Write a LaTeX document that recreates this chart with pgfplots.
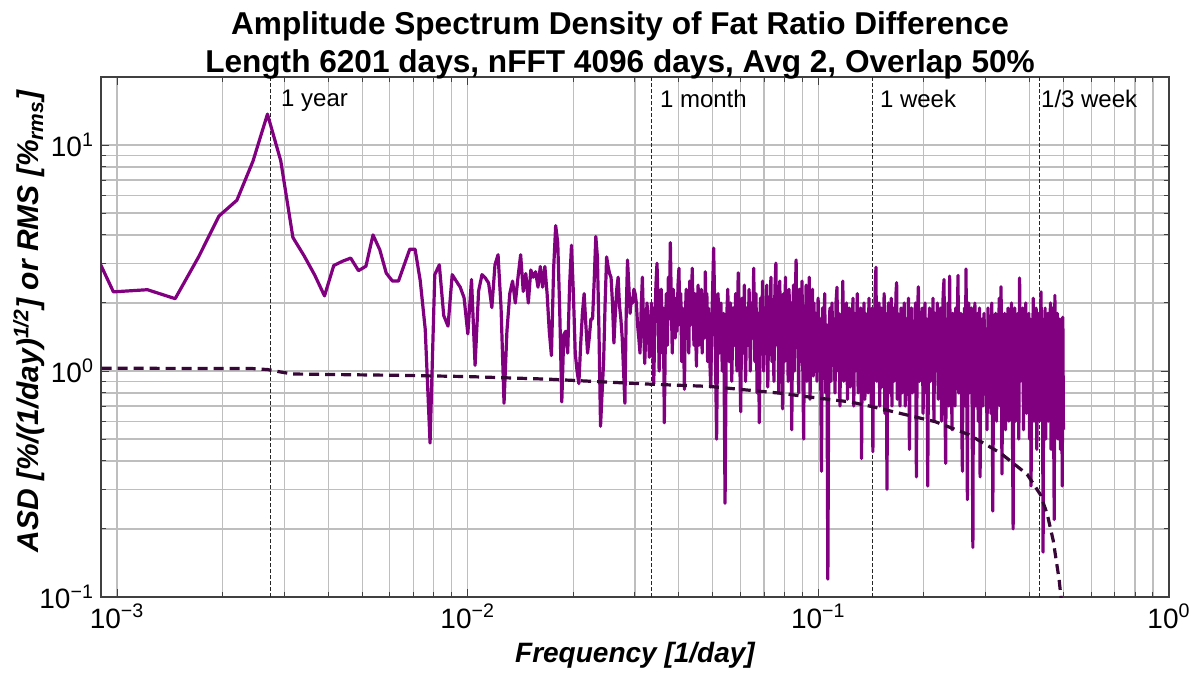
\documentclass[border=0pt]{standalone}
\usepackage{fontspec}
\setmainfont{Liberation Sans}
\usepackage{pgfplots}
\pgfplotsset{compat=1.18}
\definecolor{asdpurple}{RGB}{128,0,128}
\definecolor{rmsdark}{RGB}{55,8,55}
\definecolor{gridgray}{RGB}{190,190,190}
\begin{document}
\begin{tikzpicture}
\begin{axis}[
  xmode=log, ymode=log,
  scale only axis, width=534pt, height=260pt,
  xmin=0.0009, xmax=1, ymin=0.1, ymax=20,
  xtick={0.001,0.01,0.1,1},
  xticklabels={10\textsuperscript{−3},10\textsuperscript{−2},10\textsuperscript{−1},10\textsuperscript{0}},
  ytick={0.1,1,10},
  yticklabels={10\textsuperscript{−1},10\textsuperscript{0},10\textsuperscript{1}},
  minor xtick={0.002,0.003,0.004,0.005,0.006,0.007,0.008,0.009,0.02,0.03,0.04,0.05,0.06,0.07,0.08,0.09,0.2,0.3,0.4,0.5,0.6,0.7,0.8,0.9},
  minor ytick={0.2,0.3,0.4,0.5,0.6,0.7,0.8,0.9,2,3,4,5,6,7,8,9},
  grid=both,
  major grid style={gridgray, line width=0.6pt},
  minor grid style={gridgray, line width=0.6pt},
  axis line style={black!75, line width=0.7pt},
  tick style={black!75, line width=0.5pt},
  major tick length=4pt, minor tick length=2.5pt,
  ticklabel style={font=\fontsize{14}{14}\selectfont},
  xlabel={\bfseries\itshape Frequency [1/day]},
  xlabel style={at={(axis description cs:0.5,-0.1115)}, anchor=center, font=\fontsize{14}{14}\selectfont},
  ylabel={\bfseries\itshape ASD [\%/(1/day)\textsuperscript{1/2}] or RMS [\%\textsubscript{rms}]},
  ylabel style={at={(axis description cs:-0.0674,0.53)}, anchor=center, font=\fontsize{15}{15}\selectfont},
  title={Amplitude Spectrum Density of Fat Ratio Difference\\Length 6201 days, nFFT 4096 days, Avg 2, Overlap 50\%},
  title style={at={(axis description cs:0.486,1)}, anchor=south, inner sep=0pt, yshift=-7.5pt, align=center, font=\bfseries\fontsize{15.8}{19}\selectfont},
]
% reference period lines
\addplot[black!85, line width=0.5pt, dash pattern=on 2pt off 1pt] coordinates {(0.0027379,0.1) (0.0027379,20)};
\addplot[black!85, line width=0.5pt, dash pattern=on 2pt off 1pt] coordinates {(0.033333,0.1) (0.033333,20)};
\addplot[black!85, line width=0.5pt, dash pattern=on 2pt off 1pt] coordinates {(0.142857,0.1) (0.142857,20)};
\addplot[black!85, line width=0.5pt, dash pattern=on 2pt off 1pt] coordinates {(0.428571,0.1) (0.428571,20)};
% ASD
\addplot[asdpurple, line width=1.6pt, line join=round] table[x expr=\thisrow{k}/4096, y=v, row sep=\\] {
k v\\
3 5.8\\ 4 2.24\\ 5 2.29\\ 6 2.09\\ 7 3.2\\ 8 4.85\\ 9 5.70\\ 10 8.48\\ 11 13.7\\ 12 8.53\\
13 3.9\\ 14 3.23\\ 15 2.66\\ 16 2.15\\ 17 2.93\\ 18 3.06\\ 19 3.16\\ 20 2.78\\ 21 2.91\\ 22 4.00\\
23 3.44\\ 24 2.71\\ 25 2.50\\ 26 2.50\\ 27 2.95\\ 28 3.46\\ 29 3.46\\ 30 2.51\\ 31 1.53\\ 32 0.48\\
33 2.67\\ 34 2.95\\ 35 1.76\\ 36 1.58\\ 37 2.67\\ 38 2.50\\ 39 2.35\\ 40 2.11\\ 41 1.46\\ 42 2.54\\
43 1.06\\ 44 2.26\\ 45 2.67\\ 46 2.58\\ 47 2.45\\ 48 1.91\\ 49 2.95\\ 50 3.27\\ 51 1.9\\ 52 0.72\\
53 1.5\\ 54 2.2\\ 55 2.5\\ 56 2.0\\ 57 2.6\\ 58 3.27\\ 59 2.25\\ 60 2.7\\ 61 2.0\\ 62 2.8\\
63 2.6\\ 64 2.75\\ 65 2.35\\ 66 2.9\\ 67 2.35\\ 68 2.9\\ 69 2.2\\ 70 1.5\\ 71 1.17\\ 72 2.8\\
73 4.4\\ 74 3.7\\ 75 1.8\\ 76 0.73\\ 77 1.45\\ 78 1.5\\ 79 1.2\\ 80 2.4\\ 81 3.6\\ 82 2.2\\
83 1.2\\ 84 1.0\\ 85 0.88\\ 86 1.3\\ 87 1.8\\ 88 2.2\\ 89 1.6\\ 90 1.2\\ 91 1.4\\ 92 1.7\\
93 1.7\\ 94 2.5\\ 95 3.94\\ 96 3.2\\ 97 1.5\\ 98 0.57\\ 99 0.8\\ 100 1.1\\ 101 2.0\\ 102 3.2\\
103 2.9\\ 104 2.7\\ 105 2.6\\ 106 2.0\\ 107 1.33\\ 108 1.8\\ 109 2.3\\ 110 2.6\\ 111 1.95\\ 112 1.7\\
113 1.4\\ 114 1.0\\ 115 0.72\\ 116 1.8\\ 117 3.1\\ 118 2.4\\ 119 1.8\\ 120 2.1\\ 121 2.0\\ 122 2.3\\
123 2.2\\ 124 2.0\\ 125 1.6\\ 126 1.4\\ 127 1.2\\ 128 1.9\\ 129 2.6\\ 130 1.6\\ 131 1.08\\ 132 1.5\\
133 2.0\\ 134 1.6\\ 135 1.15\\ 136 1.5\\ 137 2.0\\ 138 1.3\\ 139 0.88\\ 140 1.6\\ 141 2.4\\ 142 3.0\\
143 2.0\\ 144 1.0\\ 145 1.6\\ 146 2.3\\ 147 1.2\\ 148 1.9\\ 149 0.59\\ 150 1.4\\ 151 2.2\\ 152 1.3\\
153 2.6\\ 154 1.7\\ 155 3.7\\ 156 2.0\\ 157 1.2\\ 158 2.3\\ 159 1.8\\ 160 1.4\\ 161 2.1\\ 162 1.5\\
163 2.4\\ 164 2.85\\ 165 1.6\\ 166 2.2\\ 167 1.1\\ 168 1.9\\ 169 1.5\\ 170 0.83\\ 171 1.7\\ 172 2.3\\
173 1.4\\ 174 2.0\\ 175 1.2\\ 176 2.5\\ 177 1.6\\ 178 2.1\\ 179 2.85\\ 180 1.8\\ 181 1.3\\ 182 2.2\\
183 1.5\\ 184 1.05\\ 185 1.9\\ 186 2.4\\ 187 1.3\\ 188 2.0\\ 189 1.6\\ 190 2.3\\ 191 1.2\\ 192 1.8\\
193 2.1\\ 194 1.4\\ 195 2.75\\ 196 1.7\\ 197 2.2\\ 198 1.1\\ 199 1.9\\ 200 1.4\\
202 0.85\\ 204 1.9\\ 206 3.5\\ 208 1.5\\ 210 0.5\\ 212 2.2\\ 214 1.2\\ 216 2.0\\ 218 1.0\\ 220 1.8\\
222 0.26\\ 224 1.6\\ 226 2.3\\ 228 1.1\\ 230 2.0\\ 232 0.9\\ 234 1.9\\ 236 1.3\\ 238 2.2\\ 240 1.0\\
242 2.72\\ 244 1.4\\ 246 0.66\\ 248 2.1\\ 250 1.2\\ 252 2.4\\ 254 0.9\\ 256 1.9\\ 258 1.3\\ 260 2.3\\
262 1.0\\ 264 2.0\\ 266 1.4\\ 268 2.85\\ 270 1.1\\ 272 2.2\\ 274 0.8\\ 276 1.8\\ 278 0.59\\ 280 2.1\\
282 1.2\\ 284 2.5\\ 286 1.0\\ 288 1.9\\ 290 1.3\\ 292 2.4\\ 294 0.85\\ 296 2.0\\ 298 1.4\\ 300 2.6\\
302 1.1\\ 304 1.9\\ 306 0.9\\ 308 2.3\\ 310 3.0\\ 312 1.3\\ 314 2.1\\ 316 0.8\\ 318 2.5\\ 320 1.2\\
322 1.8\\ 324 0.68\\ 326 2.2\\ 328 1.1\\ 330 2.6\\ 332 1.4\\ 334 1.9\\ 336 0.9\\ 338 2.3\\ 340 1.2\\
342 2.0\\ 344 0.55\\ 346 1.7\\ 348 2.4\\ 350 1.0\\ 352 2.1\\ 354 3.1\\ 356 1.3\\ 358 2.0\\ 360 0.8\\
362 2.3\\ 364 1.1\\ 366 1.8\\ 368 2.5\\ 370 1.0\\ 372 0.5\\ 374 1.9\\ 376 1.3\\ 378 2.4\\ 380 0.9\\
382 2.1\\ 384 1.2\\ 386 2.6\\ 388 0.75\\ 390 1.9\\ 392 1.4\\ 394 2.3\\ 396 0.95\\ 398 2.0\\ 400 1.2\\
403 1.8\\ 406 0.9\\ 409 2.1\\ 412 1.0\\ 415 1.7\\ 418 0.36\\ 421 1.9\\ 424 1.1\\ 427 2.2\\ 430 0.8\\
433 1.6\\ 436 0.12\\ 439 1.4\\ 442 1.9\\ 445 0.9\\ 448 2.0\\ 451 1.2\\ 454 1.7\\ 457 0.8\\ 460 2.0\\
463 2.35\\ 466 1.0\\ 469 1.8\\ 472 0.7\\ 475 1.6\\ 478 1.1\\ 481 2.5\\ 484 0.9\\ 487 1.7\\ 490 1.2\\
493 2.0\\ 496 0.75\\ 499 1.5\\ 502 1.9\\ 505 0.85\\ 508 1.6\\ 511 1.1\\ 514 2.1\\ 517 0.7\\ 520 1.8\\
523 1.0\\ 526 1.5\\ 529 2.2\\ 532 0.8\\ 535 1.7\\ 538 1.2\\ 541 1.9\\ 544 0.41\\ 547 1.6\\ 550 1.0\\
553 2.0\\ 556 0.75\\ 559 1.8\\ 562 1.3\\ 565 1.5\\ 568 0.8\\ 571 2.1\\ 574 1.1\\ 577 1.7\\ 580 0.7\\
583 1.9\\ 586 0.44\\ 589 1.6\\ 592 1.2\\ 595 2.3\\ 598 2.88\\ 601 0.9\\ 604 1.7\\ 607 1.2\\ 610 2.0\\
613 0.7\\ 616 1.5\\ 619 1.9\\ 622 0.85\\ 625 1.7\\ 628 1.1\\ 631 2.2\\ 634 0.65\\ 637 1.8\\ 640 1.2\\
643 0.30\\ 646 1.6\\ 649 2.0\\ 652 0.8\\ 655 1.7\\ 658 1.0\\ 661 2.1\\ 664 0.7\\ 667 1.5\\ 670 1.9\\
673 0.9\\ 676 1.6\\ 679 1.3\\ 682 2.2\\ 685 2.46\\ 688 0.75\\ 691 1.8\\ 694 1.1\\ 697 1.6\\ 700 0.7\\
705 1.9\\ 710 0.8\\ 715 1.5\\ 720 2.0\\ 725 0.7\\ 730 1.7\\ 735 1.1\\ 740 2.1\\ 745 0.45\\ 750 1.6\\
755 1.9\\ 760 0.8\\ 765 1.5\\ 770 1.2\\ 775 2.0\\ 780 0.34\\ 785 1.7\\ 790 2.36\\ 795 0.9\\ 800 1.6\\
805 1.1\\ 810 1.9\\ 815 0.65\\ 820 1.5\\ 825 2.0\\ 830 0.8\\ 835 1.7\\ 840 0.31\\ 845 1.4\\ 850 1.9\\
855 0.9\\ 860 1.6\\ 865 1.2\\ 870 2.1\\ 875 0.6\\ 880 1.8\\ 885 1.0\\ 890 1.5\\ 895 2.0\\ 900 0.75\\
905 1.7\\ 910 1.2\\ 915 1.9\\ 920 0.6\\ 925 1.6\\ 930 2.2\\ 935 2.54\\ 940 0.8\\ 945 0.39\\ 950 1.7\\
955 1.1\\ 960 2.0\\ 965 0.7\\ 970 2.63\\ 975 1.0\\ 980 1.6\\ 985 0.55\\ 990 1.8\\ 995 1.2\\ 1000 1.5\\
1005 0.7\\ 1010 1.9\\ 1015 0.9\\ 1020 1.6\\ 1025 2.65\\ 1030 0.8\\ 1035 1.5\\ 1040 1.1\\ 1045 1.8\\ 1050 0.6\\
1055 0.36\\ 1060 1.7\\ 1065 1.0\\ 1070 1.9\\ 1075 0.7\\ 1080 2.83\\ 1085 1.2\\ 1090 0.27\\ 1095 1.6\\ 1100 2.0\\
1105 0.8\\ 1110 1.5\\ 1115 1.1\\ 1120 1.9\\ 1125 0.6\\ 1130 0.166\\ 1135 1.7\\ 1140 1.2\\ 1145 2.0\\ 1150 0.7\\
1155 1.6\\ 1160 1.0\\ 1165 1.8\\ 1170 0.6\\ 1175 1.5\\ 1180 1.9\\ 1185 0.34\\ 1190 1.4\\ 1195 1.1\\ 1200 1.7\\
1208 0.7\\ 1216 1.8\\ 1224 1.0\\ 1232 1.5\\ 1240 0.55\\ 1248 1.9\\ 1256 1.2\\ 1264 1.6\\ 1272 0.65\\ 1280 2.0\\
1288 0.24\\ 1296 1.5\\ 1304 1.1\\ 1312 1.8\\ 1320 0.6\\ 1328 1.6\\ 1336 1.3\\ 1344 2.1\\ 1352 0.7\\ 1360 2.36\\
1368 0.35\\ 1376 1.6\\ 1384 1.0\\ 1392 1.8\\ 1400 0.55\\ 1408 1.5\\ 1416 1.2\\ 1424 1.9\\ 1432 0.6\\ 1440 1.6\\
1448 1.0\\ 1456 2.0\\ 1464 0.7\\ 1472 0.20\\ 1480 1.5\\ 1488 1.9\\ 1496 0.6\\ 1504 1.7\\ 1512 1.1\\ 1520 1.8\\
1528 0.5\\ 1536 2.58\\ 1544 0.9\\ 1552 1.5\\ 1560 1.2\\ 1568 1.9\\ 1576 0.55\\ 1584 1.6\\ 1592 1.0\\ 1600 2.0\\
1608 0.65\\ 1616 1.5\\ 1624 1.2\\ 1632 1.8\\ 1640 0.5\\ 1648 1.7\\ 1656 0.31\\ 1664 1.6\\ 1672 1.1\\ 1680 2.1\\
1688 0.6\\ 1696 1.5\\ 1704 1.3\\ 1712 1.9\\ 1720 0.45\\ 1728 1.6\\ 1736 1.0\\ 1744 1.8\\ 1752 0.6\\ 1760 1.5\\
1768 2.24\\ 1776 0.8\\ 1784 1.4\\ 1792 0.158\\ 1800 1.7\\ 1808 1.1\\ 1816 1.9\\ 1824 0.5\\ 1832 1.5\\ 1840 1.2\\
1848 1.8\\ 1856 0.6\\ 1864 1.6\\ 1872 1.0\\ 1880 2.0\\ 1888 0.45\\ 1896 1.5\\ 1904 1.2\\ 1912 1.9\\ 1920 0.6\\
1928 0.22\\ 1936 2.16\\ 1944 0.7\\ 1952 1.5\\ 1960 1.1\\ 1968 1.8\\ 1976 0.5\\ 1984 1.6\\ 1992 1.0\\ 2000 1.7\\
2008 0.45\\ 2016 1.5\\ 2024 1.2\\ 2032 0.31\\ 2040 1.73\\ 2048 0.55\\
};
% RMS (dashed)
\addplot[rmsdark, line width=1.6pt, dash pattern=on 5pt off 3pt] table[x expr=\thisrow{k}/4096, y=v, row sep=\\] {
k v\\
3 1.03\\ 10 1.025\\ 11 1.015\\ 12 0.99\\ 13 0.97\\ 26 0.957\\ 41 0.945\\ 70 0.92\\ 100 0.895\\ 137 0.874\\
200 0.855\\ 327 0.795\\ 364 0.776\\ 505 0.73\\ 585 0.695\\ 700 0.65\\ 882 0.597\\ 1103 0.522\\ 1353 0.434\\ 1614 0.349\\
1758 0.285\\ 1841 0.233\\ 1915 0.178\\ 1990 0.12\\ 2030 0.09\\ 2048 0.05\\
};
\node[anchor=north west, inner sep=0pt, xshift=5.2pt, yshift=-6.5pt, font=\fontsize{12}{12}\selectfont] at (axis cs:0.0027379,20) {1 year};
\node[anchor=north west, inner sep=0pt, xshift=4.3pt, yshift=-6.5pt, font=\fontsize{12}{12}\selectfont] at (axis cs:0.033333,20) {1 month};
\node[anchor=north west, inner sep=0pt, xshift=3.5pt, yshift=-6.5pt, font=\fontsize{12}{12}\selectfont] at (axis cs:0.142857,20) {1 week};
\node[anchor=north west, inner sep=0pt, xshift=0.4pt, yshift=-6.5pt, font=\fontsize{12}{12}\selectfont] at (axis cs:0.428571,20) {1/3 week};
\end{axis}
\pgfresetboundingbox
\path ([xshift=-50.5pt,yshift=-40.5pt]current axis.south west) rectangle ([xshift=15.5pt,yshift=38.5pt]current axis.north east);
\end{tikzpicture}
\end{document}
